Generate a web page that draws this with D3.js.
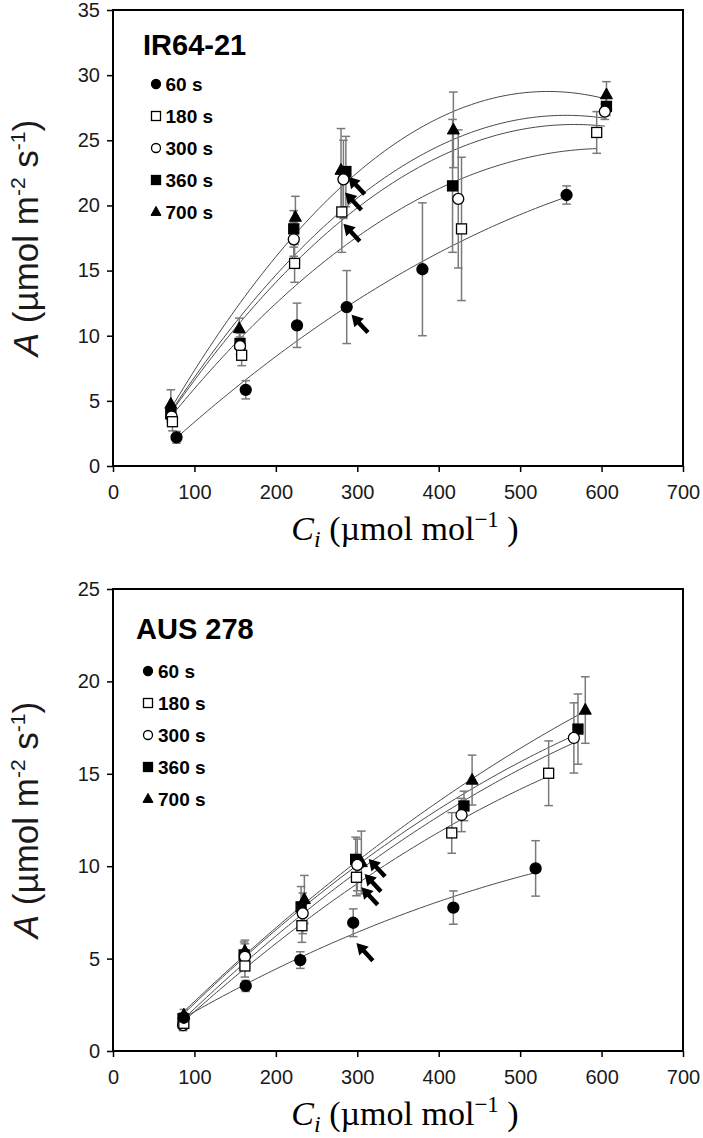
<!DOCTYPE html>
<html><head><meta charset="utf-8">
<script src="https://cdn.jsdelivr.net/npm/d3@7"></script>
<style>body{margin:0;background:#fff}</style>
</head><body>
<svg id="c" width="703" height="1138" xmlns="http://www.w3.org/2000/svg"></svg>
<script>
// ---------- data ----------
const seriesNames = ["60 s", "180 s", "300 s", "360 s", "700 s"];
const xTicks = [0, 100, 200, 300, 400, 500, 600, 700];
const yTicksTop = [0, 5, 10, 15, 20, 25, 30, 35];
const yTicksBottom = [0, 5, 10, 15, 20, 25];

// IR64-21 (top panel): Ci, A, error
const ir60Ci = [78, 163, 226, 287, 380, 557];
const ir60A  = [2.2, 5.85, 10.8, 12.2, 15.1, 20.8];
const ir60E  = [0.45, 0.7, 1.7, 2.8, 5.1, 0.7];
const ir180Ci = [73, 158, 223, 281, 428, 594];
const ir180A  = [3.4, 8.5, 15.55, 19.5, 18.2, 25.6];
const ir180E  = [0.7, 0.8, 1.45, 3.1, 5.5, 1.6];
const ir300Ci = [72, 156, 222, 283, 424, 604];
const ir300A  = [3.8, 9.2, 17.4, 22.0, 20.5, 27.2];
const ir300E  = [0.6, 0.7, 1.3, 3.0, 5.3, 0.6];
const ir360Ci = [71, 156, 222, 286, 417, 606];
const ir360A  = [4.0, 9.4, 18.2, 22.6, 21.5, 27.6];
const ir360E  = [0.6, 0.8, 1.4, 2.7, 5.1, 0.7];
const ir700Ci = [71, 155, 224, 280, 418, 606];
const ir700A  = [4.75, 10.55, 19.1, 22.7, 25.8, 28.5];
const ir700E  = [1.1, 0.8, 1.6, 3.2, 2.9, 1.0];
const irArrowCi = [289, 285, 283, 293];
const irArrowA  = [22.2, 21.0, 18.6, 11.6];

// AUS 278 (bottom panel)
const aus60Ci = [87, 163, 230, 295, 418, 519];
const aus60A  = [1.8, 3.52, 4.92, 6.94, 7.76, 9.88];
const aus60E  = [0.25, 0.3, 0.45, 0.75, 0.9, 1.5];
const aus180Ci = [87, 162, 232, 299, 416, 535];
const aus180A  = [1.5, 4.6, 6.78, 9.4, 11.8, 15.03];
const aus180E  = [0.3, 0.6, 0.9, 1.0, 1.1, 1.75];
const aus300Ci = [86, 162, 233, 300, 428, 566];
const aus300A  = [1.4, 5.1, 7.45, 10.07, 12.77, 16.94];
const aus300E  = [0.3, 0.7, 1.1, 1.4, 0.9, 1.9];
const aus360Ci = [86, 161, 231, 298, 431, 571];
const aus360A  = [1.75, 5.2, 7.8, 10.37, 13.26, 17.42];
const aus360E  = [0.3, 0.7, 1.1, 1.2, 0.8, 1.9];
const aus700Ci = [87, 162, 235, 305, 441, 580];
const aus700A  = [1.95, 5.4, 8.2, 10.2, 14.66, 18.45];
const aus700E  = [0.3, 0.6, 1.3, 1.7, 1.35, 1.8];
const ausArrowCi = [314, 309, 305, 299];
const ausArrowA  = [10.39, 9.58, 8.86, 5.84];

// ---------- helpers ----------
function quadFit(xs, ys) {
  const n = xs.length, mx = d3.mean(xs);
  const u = xs.map(v => v - mx);
  let S = [0,0,0,0,0], T = [0,0,0];
  for (let i = 0; i < n; i++) {
    let p = 1;
    for (let k = 0; k < 5; k++) { S[k] += p; p *= u[i]; }
    T[0] += ys[i]; T[1] += ys[i]*u[i]; T[2] += ys[i]*u[i]*u[i];
  }
  const M = [[S[0],S[1],S[2],T[0]],[S[1],S[2],S[3],T[1]],[S[2],S[3],S[4],T[2]]];
  for (let c = 0; c < 3; c++) {
    for (let r = c+1; r < 3; r++) {
      const f = M[r][c]/M[c][c];
      for (let k = c; k < 4; k++) M[r][k] -= f*M[c][k];
    }
  }
  const b = [0,0,0];
  for (let r = 2; r >= 0; r--) {
    let s = M[r][3];
    for (let k = r+1; k < 3; k++) s -= M[r][k]*b[k];
    b[r] = s/M[r][r];
  }
  return v => b[0] + b[1]*(v-mx) + b[2]*(v-mx)*(v-mx);
}

const svg = d3.select("#c");
const FONT = "'Liberation Sans', Arial, sans-serif";
const SERIF = "'Liberation Serif', 'Times New Roman', serif";

function drawMarker(g, type, cx, cy, s) {
  if (type === "circle" || type === "ocircle") {
    g.append("circle").attr("cx", cx).attr("cy", cy).attr("r", s/2)
      .attr("fill", type === "circle" ? "#000" : "#fff").attr("stroke", "#000").attr("stroke-width", 1.3);
  } else if (type === "square" || type === "osquare") {
    g.append("rect").attr("x", cx - s/2).attr("y", cy - s/2).attr("width", s).attr("height", s)
      .attr("fill", type === "square" ? "#000" : "#fff").attr("stroke", "#000").attr("stroke-width", 1.3);
  } else if (type === "triangle") {
    const h = s*0.9;
    g.append("path").attr("d", `M${cx},${cy - h*0.62}L${cx + s/2},${cy + h*0.38}L${cx - s/2},${cy + h*0.38}Z`)
      .attr("fill", "#000").attr("stroke", "#000").attr("stroke-width", 1);
  }
}

const markerTypes = ["circle", "osquare", "ocircle", "square", "triangle"];

function panel(cfg) {
  const x = d3.scaleLinear().domain([0, 700]).range([113, 683]);
  const y = d3.scaleLinear().domain([0, cfg.yMax]).range([cfg.bottom, cfg.top]);
  const g = svg.append("g");

  // axes
  const xa = g.append("g").attr("transform", `translate(0,${cfg.bottom})`)
    .call(d3.axisBottom(x).tickValues(xTicks).tickSize(6).tickPadding(13).tickFormat(d3.format("d")));
  const ya = g.append("g").attr("transform", `translate(113,0)`)
    .call(d3.axisLeft(y).tickValues(cfg.yTicks).tickSize(6).tickPadding(7).tickFormat(d3.format("d")));
  [xa, ya].forEach(a => {
    a.select(".domain").remove();
    a.selectAll("line").attr("stroke", "#000").attr("stroke-width", 1.5);
    a.selectAll("text").attr("font-family", FONT).attr("font-size", 20).attr("fill", "#1a1a1a");
  });

  // fitted curves
  const line = d3.line().x(d => x(d[0])).y(d => y(d[1]));
  cfg.series.forEach(s => {
    const f = quadFit(s.ci, s.A);
    const lo = d3.min(s.ci), hi = d3.max(s.ci);
    const pts = d3.range(0, 101).map(i => { const v = lo + (hi - lo)*i/100; return [v, f(v)]; });
    g.append("path").attr("d", line(pts)).attr("fill", "none").attr("stroke", "#4a4a4a").attr("stroke-width", 1);
  });

  // error bars
  cfg.series.forEach(s => {
    s.ci.forEach((c, i) => {
      const px = x(c), y1 = y(s.A[i] + s.E[i]), y2 = y(s.A[i] - s.E[i]);
      g.append("line").attr("x1", px).attr("x2", px).attr("y1", y1).attr("y2", y2)
        .attr("stroke", "#7a7a7a").attr("stroke-width", 1.5);
      [y1, y2].forEach(yy => g.append("line").attr("x1", px - 4.3).attr("x2", px + 4.3)
        .attr("y1", yy).attr("y2", yy).attr("stroke", "#7a7a7a").attr("stroke-width", 1.5));
    });
  });

  // markers (drawn 700 s first so earlier times sit on top)
  [4, 3, 2, 1, 0].forEach(k => {
    const s = cfg.series[k];
    s.ci.forEach((c, i) => drawMarker(g, markerTypes[k], x(c), y(s.A[i]), k === 4 ? 12 : (k === 1 || k === 3 ? 10 : 11)));
  });

  // arrows
  cfg.arrowCi.forEach((c, i) => {
    const tx = x(c), ty = y(cfg.arrowA[i]);
    g.append("path")
      .attr("d", "M0,0L11,-6.5L11,-2.2L24,-2.2L24,2.2L11,2.2L11,6.5Z")
      .attr("transform", `translate(${tx},${ty}) rotate(47)`)
      .attr("fill", "#000");
  });

  // frame
  g.append("rect").attr("x", 113).attr("y", cfg.top).attr("width", 683 - 113).attr("height", cfg.bottom - cfg.top)
    .attr("fill", "none").attr("stroke", "#000").attr("stroke-width", 2);

  // panel title
  g.append("text").attr("x", cfg.titleX).attr("y", cfg.titleY).text(cfg.title)
    .attr("font-family", FONT).attr("font-weight", "bold").attr("font-size", 29).attr("fill", "#000");

  // legend
  seriesNames.forEach((nm, k) => {
    const cy = cfg.legY + k*32;
    drawMarker(g, markerTypes[k], cfg.legMX, cy, k === 4 ? 10 : 9);
    g.append("text").attr("x", cfg.legTX).attr("y", cy + 6.8).text(nm)
      .attr("font-family", FONT).attr("font-weight", "bold").attr("font-size", 19).attr("fill", "#000");
  });

  // y title
  const yt = g.append("text").attr("transform", `translate(38,${(cfg.top + cfg.bottom)/2}) rotate(-90)`)
    .attr("text-anchor", "middle").attr("font-family", FONT).attr("font-size", 35).attr("fill", "#1a1a1a");
  yt.append("tspan").attr("font-style", "italic").text("A");
  yt.append("tspan").text(" (µmol m");
  yt.append("tspan").attr("font-size", 21).attr("dy", -13).text("-2");
  yt.append("tspan").attr("dy", 13).text(" s");
  yt.append("tspan").attr("font-size", 21).attr("dy", -13).text("-1");
  yt.append("tspan").attr("dy", 13).text(")");

  // x title
  const xt = g.append("text").attr("x", 405).attr("y", cfg.bottom + 74)
    .attr("text-anchor", "middle").attr("font-family", SERIF).attr("font-size", 34).attr("fill", "#000");
  xt.append("tspan").attr("font-style", "italic").text("C");
  xt.append("tspan").attr("font-style", "italic").attr("font-size", 24).attr("dy", 7).text("i");
  xt.append("tspan").attr("dy", -7).text(" (µmol mol");
  xt.append("tspan").attr("font-size", 23).attr("dy", -13).text("−1");
  xt.append("tspan").attr("dy", 13).text(" )");
}

panel({
  top: 10, bottom: 466, yMax: 35, yTicks: yTicksTop, title: "IR64-21", titleX: 143, titleY: 55,
  legMX: 156, legTX: 165.5, legY: 84,
  series: [
    {ci: ir60Ci, A: ir60A, E: ir60E},
    {ci: ir180Ci, A: ir180A, E: ir180E},
    {ci: ir300Ci, A: ir300A, E: ir300E},
    {ci: ir360Ci, A: ir360A, E: ir360E},
    {ci: ir700Ci, A: ir700A, E: ir700E}
  ],
  arrowCi: irArrowCi, arrowA: irArrowA
});

panel({
  top: 589, bottom: 1051, yMax: 25, yTicks: yTicksBottom, title: "AUS 278", titleX: 136, titleY: 639,
  legMX: 148, legTX: 158, legY: 671,
  series: [
    {ci: aus60Ci, A: aus60A, E: aus60E},
    {ci: aus180Ci, A: aus180A, E: aus180E},
    {ci: aus300Ci, A: aus300A, E: aus300E},
    {ci: aus360Ci, A: aus360A, E: aus360E},
    {ci: aus700Ci, A: aus700A, E: aus700E}
  ],
  arrowCi: ausArrowCi, arrowA: ausArrowA
});
</script>
</body></html>
